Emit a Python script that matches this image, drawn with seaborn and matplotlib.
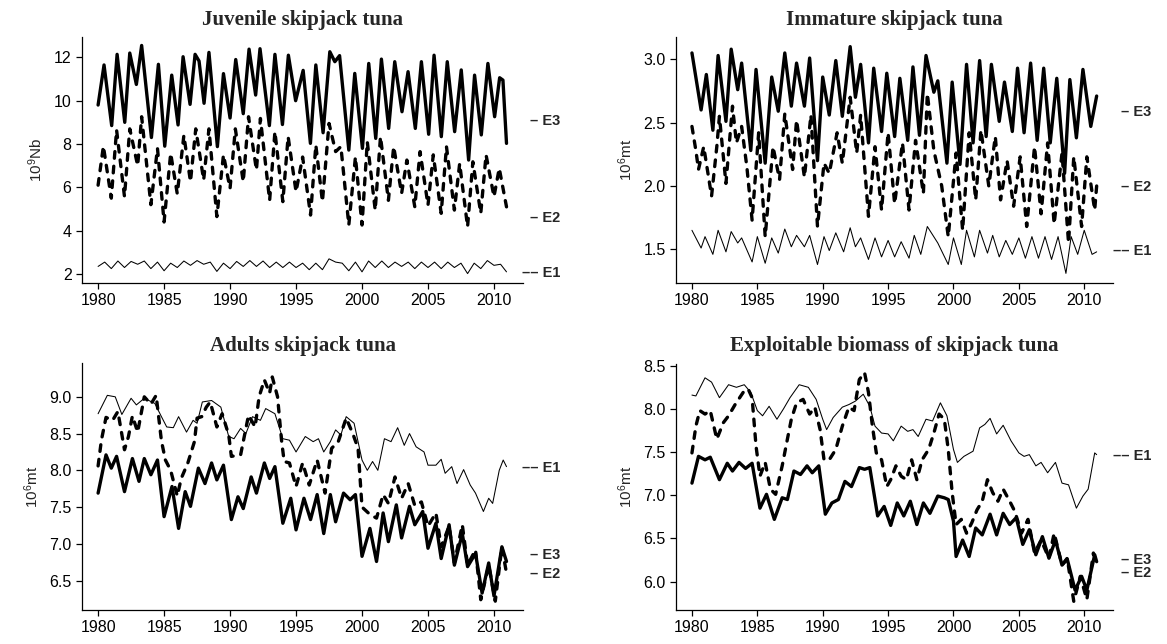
import numpy as np
import pandas as pd
import matplotlib
matplotlib.use("Agg")
import matplotlib.pyplot as plt
import matplotlib.transforms as mtransforms
import seaborn as sns

# ---------------- data (peaks / troughs) ----------------
juv_E3_t = [1980.0, 1980.45, 1981.03, 1981.44, 1982.02, 1982.4, 1982.9, 1983.3, 1984.04, 1984.57, 1985.05, 1985.58, 1986.06, 1986.44, 1986.97, 1987.35, 1987.65, 1988.03, 1988.4, 1989.04, 1989.5, 1990.0, 1990.43, 1991.0, 1991.44, 1991.94, 1992.27, 1992.98, 1993.4, 1993.97, 1994.42, 1994.97, 1995.54, 1996.09, 1996.5, 1997.05, 1997.56, 1997.94, 1998.3, 1999.0, 1999.45, 2000.03, 2000.51, 2001.04, 2001.47, 2002.02, 2002.48, 2003.03, 2003.49, 2004.04, 2004.5, 2005.05, 2005.46, 2006.01, 2006.46, 2007.02, 2007.52, 2008.08, 2008.53, 2009.04, 2009.54, 2010.05, 2010.43, 2010.68, 2010.95]
juv_E3 = [9.8, 11.65, 8.85, 12.14, 9.0, 12.2, 10.75, 12.55, 8.3, 11.68, 7.9, 11.18, 8.88, 12.03, 9.83, 12.14, 11.83, 9.88, 12.23, 7.88, 11.25, 9.2, 11.9, 9.4, 12.38, 10.26, 12.4, 8.85, 12.14, 8.9, 12.1, 10.0, 11.4, 8.03, 11.65, 8.52, 12.26, 11.8, 12.08, 7.72, 11.26, 7.8, 11.72, 8.26, 11.92, 8.72, 11.8, 9.49, 11.34, 8.72, 11.8, 8.45, 12.1, 8.34, 11.8, 8.57, 11.42, 7.26, 11.18, 8.42, 11.72, 9.26, 11.06, 10.95, 8.03]

juv_E2_t = [1980.0, 1980.4, 1981.0, 1981.4, 1982.0, 1982.4, 1983.0, 1983.3, 1984.0, 1984.5, 1985.0, 1985.5, 1986.0, 1986.5, 1987.0, 1987.4, 1988.0, 1988.4, 1989.0, 1989.5, 1990.0, 1990.4, 1991.0, 1991.4, 1992.0, 1992.3, 1993.0, 1993.4, 1994.0, 1994.4, 1995.0, 1995.5, 1996.1, 1996.5, 1997.0, 1997.5, 1998.0, 1998.4, 1999.0, 1999.5, 2000.0, 2000.4, 2001.0, 2001.4, 2002.0, 2002.4, 2003.0, 2003.4, 2004.0, 2004.4, 2005.0, 2005.4, 2006.0, 2006.4, 2007.0, 2007.4, 2008.0, 2008.4, 2009.0, 2009.4, 2010.0, 2010.4, 2010.95]
juv_E2 = [6.1, 7.9, 5.5, 8.65, 5.57, 8.7, 7.0, 9.26, 5.2, 7.8, 4.4, 7.57, 5.7, 8.4, 6.26, 8.7, 6.34, 8.7, 4.65, 7.5, 5.95, 8.7, 6.26, 9.26, 6.8, 9.18, 5.4, 8.57, 5.34, 8.34, 5.8, 7.4, 4.72, 7.95, 5.34, 8.95, 7.65, 7.88, 4.26, 7.4, 4.26, 8.1, 4.95, 8.34, 5.4, 7.88, 5.72, 7.26, 5.1, 7.65, 5.18, 7.5, 4.8, 7.88, 4.95, 7.1, 4.18, 7.18, 4.8, 7.5, 5.57, 6.88, 5.1]

juv_E1_t = [1980.0, 1980.5, 1981.0, 1981.5, 1982.0, 1982.5, 1983.0, 1983.5, 1984.0, 1984.5, 1985.0, 1985.5, 1986.0, 1986.5, 1987.0, 1987.5, 1988.0, 1988.5, 1989.0, 1989.5, 1990.0, 1990.5, 1991.0, 1991.5, 1992.0, 1992.5, 1993.0, 1993.5, 1994.0, 1994.5, 1995.0, 1995.5, 1996.0, 1996.5, 1997.0, 1997.5, 1998.0, 1998.5, 1999.0, 1999.5, 2000.0, 2000.5, 2001.0, 2001.5, 2002.0, 2002.5, 2003.0, 2003.5, 2004.0, 2004.5, 2005.0, 2005.5, 2006.0, 2006.5, 2007.0, 2007.5, 2008.0, 2008.5, 2009.0, 2009.5, 2010.0, 2010.5, 2010.95]
juv_E1 = [2.35, 2.55, 2.25, 2.6, 2.3, 2.58, 2.45, 2.6, 2.25, 2.55, 2.15, 2.5, 2.3, 2.6, 2.4, 2.62, 2.45, 2.55, 2.12, 2.5, 2.25, 2.58, 2.35, 2.62, 2.35, 2.6, 2.3, 2.55, 2.3, 2.55, 2.3, 2.5, 2.2, 2.5, 2.2, 2.7, 2.55, 2.5, 2.15, 2.55, 2.1, 2.6, 2.3, 2.6, 2.3, 2.55, 2.35, 2.55, 2.25, 2.55, 2.3, 2.55, 2.25, 2.55, 2.3, 2.5, 2.02, 2.5, 2.25, 2.62, 2.4, 2.45, 2.1]

imm_E3_t = [1980.0, 1980.7, 1981.1, 1981.6, 1982.0, 1982.6, 1983.0, 1983.5, 1983.8, 1984.5, 1984.9, 1985.6, 1986.1, 1986.6, 1987.1, 1987.6, 1988.0, 1988.6, 1989.0, 1989.6, 1990.0, 1990.5, 1991.0, 1991.5, 1992.1, 1992.5, 1992.9, 1993.5, 1993.9, 1994.5, 1994.9, 1995.5, 1995.9, 1996.5, 1996.9, 1997.4, 1997.9, 1998.5, 1998.8, 1999.5, 1999.9, 2000.5, 2001.0, 2001.5, 2002.0, 2002.5, 2002.9, 2003.5, 2003.9, 2004.5, 2004.9, 2005.4, 2005.9, 2006.4, 2006.9, 2007.4, 2007.9, 2008.5, 2008.9, 2009.4, 2009.9, 2010.5, 2010.95]
imm_E3 = [3.05, 2.6, 2.88, 2.44, 3.03, 2.51, 3.08, 2.76, 2.97, 2.28, 2.92, 2.18, 2.86, 2.59, 3.05, 2.63, 2.97, 2.63, 3.01, 2.2, 2.86, 2.56, 2.99, 2.55, 3.1, 2.7, 2.96, 2.34, 2.93, 2.43, 2.89, 2.39, 2.85, 2.36, 2.94, 2.4, 3.03, 2.74, 2.83, 2.18, 2.82, 2.17, 2.96, 2.34, 2.99, 2.39, 2.96, 2.51, 2.82, 2.43, 2.93, 2.42, 2.97, 2.36, 2.93, 2.34, 2.85, 2.1, 2.84, 2.38, 2.92, 2.47, 2.71]

imm_E2_t = [1980.0, 1980.3, 1980.5, 1980.9, 1981.5, 1981.9, 1982.1, 1982.6, 1983.1, 1983.4, 1983.8, 1984.2, 1984.6, 1985.1, 1985.6, 1986.2, 1986.7, 1987.1, 1987.7, 1988.0, 1988.6, 1989.1, 1989.6, 1990.1, 1990.5, 1991.1, 1991.5, 1992.1, 1992.6, 1992.9, 1993.5, 1994.0, 1994.5, 1995.0, 1995.5, 1996.1, 1996.6, 1997.1, 1997.7, 1998.0, 1998.5, 1999.1, 1999.6, 2000.2, 2000.7, 2001.2, 2001.7, 2002.1, 2002.7, 2003.2, 2003.6, 2004.1, 2004.6, 2005.1, 2005.6, 2006.2, 2006.7, 2007.2, 2007.7, 2008.3, 2008.8, 2009.2, 2009.8, 2010.2, 2010.8, 2010.95]
imm_E2 = [2.47, 2.28, 2.13, 2.31, 1.92, 2.31, 2.55, 2.02, 2.63, 2.34, 2.47, 2.15, 1.73, 2.42, 1.6, 2.31, 2.05, 2.57, 2.13, 2.52, 2.07, 2.56, 1.68, 2.18, 2.1, 2.42, 2.18, 2.7, 2.26, 2.56, 1.76, 2.31, 1.81, 2.42, 1.86, 2.34, 1.81, 2.36, 1.94, 2.73, 2.28, 2.0, 1.6, 2.26, 1.65, 2.42, 1.89, 2.44, 2.0, 2.39, 1.89, 2.2, 1.84, 2.23, 1.68, 2.31, 1.78, 2.34, 1.7, 2.26, 1.55, 2.23, 1.68, 2.23, 1.81, 2.0]

imm_E1_t = [1980.0, 1980.7, 1981.0, 1981.6, 1982.0, 1982.6, 1983.0, 1983.5, 1983.8, 1984.6, 1985.0, 1985.6, 1986.1, 1986.6, 1987.1, 1987.6, 1988.0, 1988.6, 1989.0, 1989.6, 1990.1, 1990.5, 1991.0, 1991.6, 1992.1, 1992.5, 1992.9, 1993.5, 1994.0, 1994.5, 1995.0, 1995.5, 1996.0, 1996.6, 1997.0, 1997.5, 1998.0, 1998.8, 1999.6, 2000.0, 2000.6, 2001.0, 2001.6, 2002.0, 2002.6, 2003.0, 2003.5, 2004.0, 2004.5, 2005.0, 2005.5, 2006.0, 2006.5, 2007.0, 2007.5, 2008.0, 2008.6, 2009.0, 2009.5, 2010.0, 2010.6, 2010.95]
imm_E1 = [1.65, 1.51, 1.6, 1.46, 1.65, 1.48, 1.64, 1.55, 1.59, 1.4, 1.6, 1.39, 1.59, 1.47, 1.66, 1.52, 1.61, 1.52, 1.61, 1.38, 1.6, 1.49, 1.63, 1.48, 1.67, 1.52, 1.59, 1.42, 1.59, 1.44, 1.57, 1.44, 1.56, 1.43, 1.61, 1.46, 1.68, 1.55, 1.38, 1.59, 1.38, 1.65, 1.44, 1.65, 1.47, 1.61, 1.44, 1.57, 1.46, 1.59, 1.43, 1.6, 1.43, 1.6, 1.42, 1.6, 1.31, 1.6, 1.46, 1.65, 1.46, 1.48]

ad_E1_t = [1980.0, 1980.7, 1981.3, 1981.8, 1982.5, 1982.9, 1983.5, 1984.3, 1984.8, 1985.2, 1985.7, 1986.1, 1986.7, 1987.2, 1987.5, 1987.9, 1988.6, 1989.3, 1989.9, 1990.3, 1990.8, 1991.2, 1991.7, 1992.3, 1992.7, 1993.4, 1994.0, 1994.5, 1995.0, 1995.7, 1996.3, 1996.7, 1997.1, 1997.6, 1998.0, 1998.4, 1998.8, 1999.4, 2000.0, 2000.4, 2000.8, 2001.2, 2001.7, 2002.2, 2002.7, 2003.2, 2003.6, 2004.1, 2004.7, 2005.0, 2005.6, 2006.0, 2006.3, 2006.8, 2007.2, 2007.7, 2008.2, 2008.6, 2009.2, 2009.6, 2009.9, 2010.4, 2010.7, 2010.95]
ad_E1 = [8.77, 9.02, 9.0, 8.76, 8.98, 8.89, 8.98, 8.91, 8.73, 8.59, 8.58, 8.73, 8.52, 8.68, 8.64, 8.93, 8.95, 8.86, 8.46, 8.43, 8.57, 8.5, 8.73, 8.68, 8.84, 8.77, 8.43, 8.41, 8.25, 8.46, 8.39, 8.43, 8.25, 8.39, 8.55, 8.48, 8.73, 8.64, 8.14, 8.0, 8.12, 8.0, 8.43, 8.39, 8.58, 8.34, 8.5, 8.32, 8.25, 8.07, 8.07, 8.15, 7.96, 8.05, 7.82, 8.01, 7.8, 7.69, 7.44, 7.62, 7.55, 8.0, 8.14, 8.05]

ad_E3_t = [1980.0, 1980.6, 1981.0, 1981.4, 1982.0, 1982.6, 1983.1, 1983.5, 1984.0, 1984.5, 1985.0, 1985.6, 1986.1, 1986.6, 1987.0, 1987.6, 1988.1, 1988.6, 1989.0, 1989.5, 1990.1, 1990.6, 1991.0, 1991.6, 1992.0, 1992.6, 1993.0, 1993.4, 1994.0, 1994.6, 1995.0, 1995.6, 1996.1, 1996.6, 1997.1, 1997.6, 1998.0, 1998.6, 1999.1, 1999.5, 2000.0, 2000.6, 2001.1, 2001.6, 2002.0, 2002.6, 2003.0, 2003.6, 2004.0, 2004.6, 2005.0, 2005.6, 2006.0, 2006.6, 2007.0, 2007.6, 2008.0, 2008.6, 2009.1, 2009.6, 2010.0, 2010.6, 2010.95]
ad_E3 = [7.69, 8.21, 8.03, 8.19, 7.71, 8.16, 7.85, 8.16, 7.94, 8.14, 7.37, 7.78, 7.21, 7.71, 7.51, 8.03, 7.82, 8.1, 7.87, 8.07, 7.33, 7.64, 7.48, 7.91, 7.69, 8.1, 7.89, 8.05, 7.28, 7.62, 7.19, 7.62, 7.33, 7.67, 7.14, 7.67, 7.3, 7.69, 7.6, 7.67, 6.83, 7.21, 6.76, 7.42, 7.03, 7.53, 7.08, 7.51, 7.26, 7.44, 6.94, 7.28, 6.8, 7.26, 6.71, 7.14, 6.69, 6.87, 6.33, 6.74, 6.29, 6.96, 6.76]

ad_E2_t = [1980.0, 1980.25, 1980.6, 1981.1, 1981.5, 1982.0, 1982.3, 1982.6, 1983.0, 1983.5, 1984.0, 1984.4, 1984.8, 1985.1, 1985.5, 1986.0, 1986.3, 1986.8, 1987.3, 1987.5, 1987.85, 1988.2, 1988.5, 1989.0, 1989.4, 1989.9, 1990.1, 1990.8, 1991.1, 1991.4, 1991.9, 1992.2, 1992.6, 1993.0, 1993.2, 1993.6, 1993.9, 1994.1, 1994.5, 1995.0, 1995.5, 1996.0, 1996.6, 1997.2, 1997.7, 1998.2, 1998.8, 1999.3, 1999.7, 2000.0, 2000.6, 2001.1, 2001.6, 2002.0, 2002.5, 2003.0, 2003.5, 2004.0, 2004.5, 2005.0, 2005.6, 2006.0, 2006.6, 2007.0, 2007.6, 2008.0, 2008.6, 2009.0, 2009.6, 2010.1, 2010.6, 2010.95]
ad_E2 = [8.06, 8.41, 8.72, 8.68, 8.8, 8.28, 8.46, 8.74, 8.52, 9.0, 8.9, 9.02, 8.4, 8.14, 8.0, 7.65, 7.89, 8.1, 8.39, 8.71, 8.73, 8.86, 8.93, 8.59, 8.77, 8.48, 8.19, 8.21, 8.48, 8.75, 8.59, 9.0, 9.23, 9.05, 9.27, 9.0, 8.41, 8.12, 8.1, 7.78, 8.1, 7.8, 8.14, 7.69, 8.3, 8.39, 8.71, 8.5, 8.3, 7.5, 7.4, 7.35, 7.67, 7.55, 7.91, 7.62, 7.82, 7.52, 7.57, 7.24, 7.42, 6.96, 7.24, 6.74, 7.26, 6.71, 6.92, 6.24, 6.71, 6.22, 6.96, 6.6]

ex_E1_t = [1980.0, 1980.3, 1981.0, 1981.5, 1982.1, 1982.8, 1983.4, 1984.0, 1984.5, 1985.0, 1985.4, 1985.9, 1986.5, 1987.0, 1987.5, 1988.2, 1988.9, 1989.5, 1990.0, 1990.3, 1990.8, 1991.5, 1992.0, 1992.5, 1993.1, 1993.6, 1994.0, 1994.5, 1995.0, 1995.4, 1996.0, 1996.5, 1996.9, 1997.3, 1997.9, 1998.4, 1999.0, 1999.5, 2000.0, 2000.3, 2000.8, 2001.5, 2002.0, 2002.4, 2002.8, 2003.3, 2003.8, 2004.4, 2005.0, 2005.4, 2005.8, 2006.3, 2006.7, 2007.2, 2007.8, 2008.3, 2008.8, 2009.4, 2009.9, 2010.3, 2010.8, 2010.95]
ex_E1 = [8.16, 8.15, 8.36, 8.31, 8.13, 8.28, 8.25, 8.28, 8.19, 7.98, 7.92, 8.03, 7.88, 8.0, 8.13, 8.28, 8.25, 8.11, 7.88, 7.76, 7.9, 8.02, 8.05, 8.09, 8.17, 8.03, 7.8, 7.72, 7.71, 7.63, 7.8, 7.74, 7.76, 7.68, 7.88, 7.86, 8.07, 7.92, 7.53, 7.38, 7.45, 7.51, 7.78, 7.82, 7.89, 7.71, 7.81, 7.63, 7.49, 7.45, 7.47, 7.34, 7.38, 7.26, 7.38, 7.14, 7.12, 6.85, 6.99, 7.07, 7.49, 7.47]

ex_E3_t = [1980.0, 1980.5, 1981.0, 1981.4, 1982.1, 1982.7, 1983.1, 1983.6, 1984.1, 1984.6, 1985.2, 1985.7, 1986.3, 1986.9, 1987.3, 1987.8, 1988.3, 1988.8, 1989.2, 1989.7, 1990.2, 1990.7, 1991.2, 1991.7, 1992.2, 1992.8, 1993.2, 1993.6, 1994.2, 1994.7, 1995.2, 1995.7, 1996.2, 1996.7, 1997.2, 1997.7, 1998.2, 1998.8, 1999.3, 1999.6, 2000.0, 2000.2, 2000.7, 2001.2, 2001.7, 2002.2, 2002.8, 2003.3, 2003.8, 2004.3, 2004.8, 2005.3, 2005.8, 2006.3, 2006.8, 2007.3, 2007.8, 2008.3, 2008.7, 2009.3, 2009.8, 2010.2, 2010.8, 2010.95]
ex_E3 = [7.14, 7.45, 7.41, 7.44, 7.18, 7.37, 7.28, 7.38, 7.31, 7.37, 6.85, 7.01, 6.72, 6.97, 6.95, 7.28, 7.24, 7.34, 7.26, 7.34, 6.78, 6.91, 6.95, 7.16, 7.1, 7.32, 7.3, 7.32, 6.76, 6.87, 6.65, 6.91, 6.76, 6.93, 6.66, 6.91, 6.79, 6.99, 6.97, 6.95, 6.7, 6.29, 6.48, 6.29, 6.62, 6.54, 6.78, 6.54, 6.79, 6.66, 6.74, 6.43, 6.6, 6.31, 6.52, 6.27, 6.48, 6.19, 6.26, 5.9, 6.06, 5.9, 6.31, 6.23]

ex_E2_t = [1980.0, 1980.3, 1980.6, 1981.0, 1981.4, 1981.9, 1982.4, 1982.8, 1983.3, 1984.0, 1984.3, 1984.6, 1984.9, 1985.2, 1985.6, 1986.0, 1986.4, 1986.9, 1987.3, 1987.6, 1988.0, 1988.5, 1989.0, 1989.4, 1989.8, 1990.1, 1990.5, 1991.0, 1991.5, 1992.0, 1992.4, 1992.8, 1993.2, 1993.5, 1993.8, 1994.1, 1994.5, 1994.9, 1995.2, 1995.6, 1996.0, 1996.4, 1996.8, 1997.2, 1997.6, 1998.1, 1998.5, 1998.9, 1999.3, 1999.6, 1999.9, 2000.2, 2000.6, 2001.0, 2001.4, 2001.8, 2002.2, 2002.6, 2003.0, 2003.4, 2003.8, 2004.3, 2004.7, 2005.2, 2005.7, 2006.2, 2006.7, 2007.3, 2007.7, 2008.3, 2008.7, 2009.2, 2009.7, 2010.2, 2010.7, 2010.95]
ex_E2 = [7.49, 7.8, 7.98, 7.94, 7.98, 7.65, 7.84, 7.92, 8.05, 8.21, 8.23, 8.13, 7.57, 7.22, 7.38, 7.07, 7.01, 7.34, 7.65, 7.88, 8.07, 8.11, 7.94, 8.02, 7.76, 7.41, 7.41, 7.53, 7.8, 8.02, 7.98, 8.34, 8.42, 8.19, 7.8, 7.49, 7.41, 7.1, 7.18, 7.34, 7.22, 7.18, 7.41, 7.18, 7.41, 7.53, 7.72, 7.94, 7.88, 7.53, 7.03, 6.66, 6.72, 6.56, 6.68, 6.83, 6.93, 7.18, 7.03, 6.93, 7.07, 6.93, 6.81, 6.56, 6.72, 6.33, 6.48, 6.27, 6.56, 6.19, 6.27, 5.77, 6.06, 5.79, 6.33, 6.21]

titles = ["Juvenile skipjack tuna", "Immature skipjack tuna",
          "Adults skipjack tuna", "Exploitable biomass of skipjack tuna"]
ylabels = ["$10^9$Nb", "$10^6$mt", "$10^6$mt", "$10^6$mt"]
year_ticks = [1980, 1985, 1990, 1995, 2000, 2005, 2010]
yticks = [[2, 4, 6, 8, 10, 12], [1.5, 2.0, 2.5, 3.0],
          [6.5, 7.0, 7.5, 8.0, 8.5, 9.0], [6.0, 6.5, 7.0, 7.5, 8.0, 8.5]]
ylims = [(1.585, 12.94), (1.234, 3.176), (6.10, 9.46), (5.67, 8.52)]
label_text = {"E1": "\u2013\u2013 E1", "E2": "\u2013 E2", "E3": "\u2013 E3"}
label_y = [{"E3": 9.07, "E2": 4.6, "E1": 2.03},
           {"E3": 2.58, "E2": 1.99, "E1": 1.49},
           {"E1": 8.03, "E3": 6.85, "E2": 6.59},
           {"E1": 7.45, "E3": 6.25, "E2": 6.10}]

panels = [
    {"E3": (juv_E3_t, juv_E3), "E2": (juv_E2_t, juv_E2), "E1": (juv_E1_t, juv_E1)},
    {"E3": (imm_E3_t, imm_E3), "E2": (imm_E2_t, imm_E2), "E1": (imm_E1_t, imm_E1)},
    {"E3": (ad_E3_t, ad_E3), "E2": (ad_E2_t, ad_E2), "E1": (ad_E1_t, ad_E1)},
    {"E3": (ex_E3_t, ex_E3), "E2": (ex_E2_t, ex_E2), "E1": (ex_E1_t, ex_E1)},
]

# ---------------- style ----------------
sns.set_theme(style="ticks")
plt.rcParams["font.family"] = ["Liberation Sans", "DejaVu Sans"]
plt.rcParams["mathtext.default"] = "regular"
plt.rcParams["lines.solid_capstyle"] = "round"
plt.rcParams["lines.dash_capstyle"] = "round"
plt.rcParams["lines.solid_joinstyle"] = "round"
plt.rcParams["lines.dash_joinstyle"] = "round"

W, H = 1167, 644
fig = plt.figure(figsize=(W / 100, H / 100), dpi=100)

# axes boxes in pixels: left, right, top, bottom
boxes = [(82, 523, 37, 283), (676, 1113, 37, 283),
         (82, 523, 363, 610), (676, 1113, 364, 610)]
label_x = [1.084, 1.087, 1.084, 1.087]

for i, (l, r, t, b) in enumerate(boxes):
    ax = fig.add_axes([l / W, 1 - b / H, (r - l) / W, (b - t) / H])
    frames = []
    for name in ["E3", "E2", "E1"]:
        tt, vv = panels[i][name]
        frames.append(pd.DataFrame({"year": tt, "value": vv, "scenario": name}))
    df = pd.concat(frames, ignore_index=True)
    sns.lineplot(data=df, x="year", y="value", hue="scenario", style="scenario",
                 size="scenario",
                 palette={"E1": "black", "E2": "black", "E3": "black"},
                 dashes={"E1": "", "E2": (2.0, 2.4), "E3": ""},
                 sizes={"E1": 0.75, "E2": 2.4, "E3": 2.4},
                 estimator=None, sort=False, legend=False, ax=ax)
    ax.set_xlim(1978.78, 2012.2)
    ax.set_ylim(*ylims[i])
    ax.set_xticks(year_ticks)
    ax.set_xticklabels([str(y) for y in year_ticks])
    ax.set_yticks(yticks[i])
    if i == 0:
        ax.set_yticklabels([str(v) for v in yticks[i]])
    else:
        ax.set_yticklabels(["%.1f" % v for v in yticks[i]])
    ax.set_xlabel("")
    ax.set_ylabel(ylabels[i], fontsize=11, labelpad=6)
    ax.tick_params(axis="both", direction="out", length=4.5, width=0.9,
                   labelsize=11.5, colors="black", pad=3)
    sns.despine(ax=ax)
    for s in ["left", "bottom"]:
        ax.spines[s].set_linewidth(0.9)
        ax.spines[s].set_color("black")
    ax.set_title(titles[i], fontsize=15, fontweight="bold",
                 family=["Liberation Serif", "DejaVu Serif"], pad=9)
    trans = mtransforms.blended_transform_factory(ax.transAxes, ax.transData)
    for name, yv in label_y[i].items():
        ax.text(label_x[i], yv, label_text[name], transform=trans, ha="right",
                va="center", fontsize=10.5, fontweight="bold", clip_on=False)

fig.savefig("out.png", dpi=100)
